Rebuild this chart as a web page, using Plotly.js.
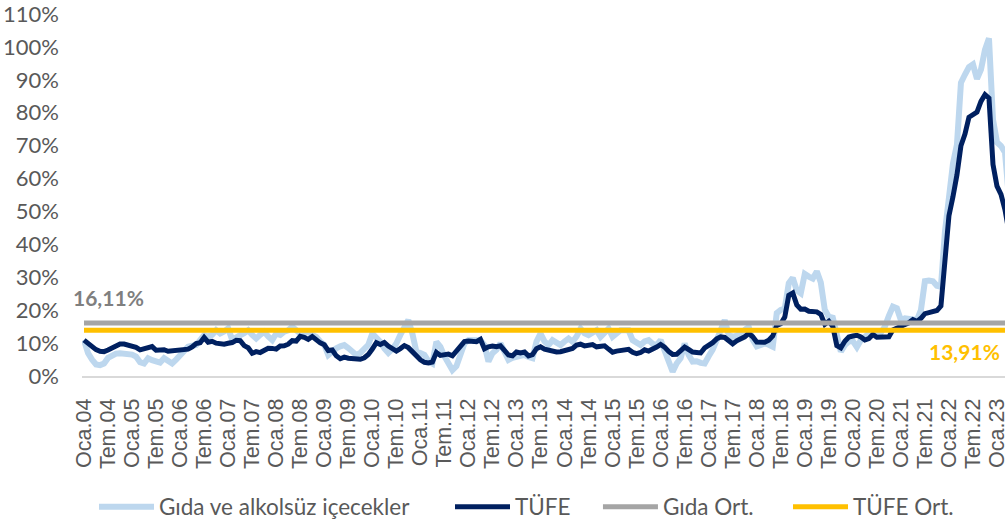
<!DOCTYPE html>
<html>
<head>
<meta charset="utf-8">
<script src="https://cdn.plot.ly/plotly-3.0.1.min.js"></script>
<style>html,body{margin:0;padding:0;background:#fff;}#chart{width:1005px;height:524px;}</style>
</head>
<body>
<div id="chart"></div>
<script>
// Annual % change, monthly, Oca.04 ... Nis.23
const gida = [
  10.9, 7.0, 5.0, 3.5, 3.3, 3.8, 5.5, 6.4, 6.8, 6.9, 6.9, 6.9,
  6.5, 5.9, 4.2, 3.8, 5.4, 4.8, 4.4, 4.1, 5.4, 4.5, 3.8, 5.0,
  6.4, 7.5, 8.9, 9.2, 9.4, 10.9, 12.4, 11.9, 12.5, 13.9, 12.9, 13.5,
  14.5, 11.0, 11.5, 12.4, 13.0, 13.9, 12.5, 11.4, 12.5, 13.4, 12.0, 10.9,
  12.9, 12.5, 13.5, 13.9, 15.0, 14.0, 12.9, 13.0, 13.4, 12.5, 11.9, 10.5,
  9.5, 6.4, 7.5, 8.4, 9.0, 9.4, 8.5, 7.4, 6.4, 7.0, 8.4, 9.5,
  12.9, 11.9, 10.4, 8.4, 7.0, 8.2, 9.9, 12.5, 15.0, 17.0, 12.9, 7.4,
  7.0, 6.4, 4.5, 3.8, 10.4, 8.9, 6.0, 4.0, 1.8, 3.0, 7.0, 9.9,
  10.9, 10.9, 10.9, 10.9, 9.4, 4.4, 6.9, 8.0, 9.9, 7.0, 4.9, 5.5,
  5.9, 6.2, 6.4, 5.8, 5.4, 10.5, 12.9, 10.5, 9.4, 10.9, 10.0, 9.4,
  10.5, 11.4, 10.4, 12.0, 14.4, 13.0, 12.4, 13.0, 13.9, 11.9, 13.0, 14.4,
  11.9, 13.0, 13.9, 13.9, 13.9, 10.9, 10.0, 9.4, 10.5, 10.9, 9.8, 9.4,
  10.9, 7.4, 3.5, 1.3, 3.8, 5.4, 9.9, 6.4, 4.4, 4.5, 4.0, 3.8,
  6.0, 8.0, 10.9, 14.0, 17.0, 12.5, 11.9, 12.3, 12.9, 14.0, 14.9, 11.0,
  9.0, 9.5, 9.9, 9.5, 8.9, 19.1, 20.1, 20.5, 28.2, 29.8, 26.0, 25.1,
  31.0, 30.2, 29.6, 31.8, 28.4, 20.1, 18.0, 17.7, 11.9, 7.4, 9.4, 10.5,
  10.6, 8.8, 10.9, 11.9, 12.9, 12.9, 12.8, 13.2, 15.0, 18.3, 21.1, 20.6,
  17.0, 17.5, 17.4, 17.4, 17.0, 20.0, 28.8, 29.0, 28.8, 27.4, 27.1, 43.8,
  55.6, 64.5, 70.3, 89.1, 91.6, 93.9, 94.7, 90.3, 93.1, 99.1, 102.6, 77.9,
  71.0, 69.9, 67.9, 53.9
];
const tufe = [
  10.9, 9.8, 8.8, 8.0, 7.5, 7.4, 7.9, 8.6, 9.4, 9.7, 9.7, 9.4,
  9.24, 8.69, 7.94, 8.18, 8.70, 8.95, 7.82, 7.91, 7.99, 7.52, 7.61, 7.72,
  7.93, 8.15, 8.16, 8.83, 9.86, 10.12, 11.69, 10.26, 10.55, 9.98, 9.86, 9.65,
  9.93, 10.16, 10.86, 10.72, 9.23, 8.60, 6.90, 7.39, 7.12, 7.70, 8.40, 8.39,
  8.17, 9.10, 9.15, 9.66, 10.74, 10.61, 12.06, 11.77, 11.13, 11.99, 10.76, 10.06,
  9.50, 7.73, 7.89, 6.13, 5.24, 5.73, 5.39, 5.33, 5.27, 5.08, 5.53, 6.53,
  8.19, 10.13, 9.56, 10.19, 9.10, 8.37, 7.58, 8.33, 9.24, 8.62, 7.29, 6.40,
  4.90, 4.16, 3.99, 4.26, 7.17, 6.24, 6.31, 6.65, 6.15, 7.66, 9.48, 10.45,
  10.61, 10.43, 10.43, 11.14, 8.28, 8.87, 9.07, 8.88, 9.19, 7.80, 6.37, 6.16,
  7.31, 7.03, 7.29, 6.13, 6.51, 8.30, 8.88, 8.17, 7.88, 7.71, 7.32, 7.40,
  7.75, 7.89, 8.39, 9.38, 9.66, 9.16, 9.32, 9.54, 8.86, 8.96, 9.15, 8.17,
  7.24, 7.55, 7.61, 7.91, 8.09, 7.20, 6.81, 7.14, 7.95, 7.58, 8.10, 8.81,
  9.58, 8.78, 7.46, 6.57, 6.58, 7.64, 8.79, 8.05, 7.28, 7.16, 7.00, 8.53,
  9.22, 10.13, 11.29, 11.87, 11.72, 10.90, 9.79, 10.68, 11.20, 11.90, 12.98, 11.92,
  10.35, 10.26, 10.23, 10.85, 12.15, 15.39, 15.85, 17.90, 24.52, 25.24, 21.62, 20.30,
  20.35, 19.67, 19.71, 19.50, 18.71, 15.72, 16.65, 15.01, 9.26, 8.55, 10.56, 11.84,
  12.15, 12.37, 11.86, 10.94, 11.39, 12.62, 11.76, 11.77, 11.75, 11.89, 14.03, 14.60,
  14.97, 15.61, 16.19, 17.14, 16.59, 17.53, 18.95, 19.25, 19.58, 19.89, 21.31, 36.08,
  48.69, 54.44, 61.14, 69.97, 73.50, 78.62, 79.60, 80.21, 83.45, 85.51, 84.39, 64.27,
  57.68, 55.18, 50.51, 43.68
];
const gidaOrt = 16.11;
const tufeOrt = 13.91;
const tickLabels = [
  "Oca.04","Tem.04","Oca.05","Tem.05","Oca.06","Tem.06","Oca.07","Tem.07",
  "Oca.08","Tem.08","Oca.09","Tem.09","Oca.10","Tem.10","Oca.11","Tem.11",
  "Oca.12","Tem.12","Oca.13","Tem.13","Oca.14","Tem.14","Oca.15","Tem.15",
  "Oca.16","Tem.16","Oca.17","Tem.17","Oca.18","Tem.18","Oca.19","Tem.19",
  "Oca.20","Tem.20","Oca.21","Tem.21","Oca.22","Tem.22","Oca.23"
];
const yTicks = [0,10,20,30,40,50,60,70,80,90,100,110];
const seriesNames = ["Gıda ve alkolsüz içecekler","TÜFE","Gıda Ort.","TÜFE Ort."];

const xs = gida.map((_, i) => i);
const xEnds = [0, gida.length - 1];

const traces = [
  {x: xs, y: gida, name: seriesNames[0], type: 'scatter', mode: 'lines',
   line: {color: '#BDD7EE', width: 6}, legend: 'legend'},
  {x: xs, y: tufe, name: seriesNames[1], type: 'scatter', mode: 'lines',
   line: {color: '#002060', width: 5}, legend: 'legend2'},
  {x: xEnds, y: [gidaOrt, gidaOrt], name: seriesNames[2], type: 'scatter', mode: 'lines',
   line: {color: '#A5A5A5', width: 5}, legend: 'legend3'},
  {x: xEnds, y: [tufeOrt, tufeOrt], name: seriesNames[3], type: 'scatter', mode: 'lines',
   line: {color: '#FFC000', width: 5}, legend: 'legend4'}
];

const fmt = v => v.toFixed(2).replace('.', ',') + '%';
const legFont = {family: 'Lato', size: 22.5, color: '#595959'};
const mkLeg = x => ({orientation: 'h', x: x, xanchor: 'left', y: -0.362, yanchor: 'middle',
                     font: legFont, bgcolor: 'rgba(0,0,0,0)', itemwidth: 55, borderwidth: 0});

const layout = {
  width: 1005, height: 524,
  margin: {l: 82, r: 0, t: 14, b: 148, pad: 0, autoexpand: false},
  paper_bgcolor: '#ffffff', plot_bgcolor: '#ffffff',
  showlegend: true,
  legend: mkLeg(0.013),
  legend2: mkLeg(0.3987),
  legend3: mkLeg(0.559),
  legend4: mkLeg(0.7649),
  xaxis: {range: [-0.5, 230.0], tickmode: 'array',
          tickvals: tickLabels.map((_, i) => i * 6), ticktext: tickLabels,
          tickangle: -90, tickfont: {family: 'Liberation Sans', size: 21.5, color: '#595959'},
          showline: true, linecolor: '#D9D9D9', linewidth: 2, showgrid: false, zeroline: false,
          ticks: '', ticklabelstandoff: 12, ticklabeloverflow: 'allow', fixedrange: true,
          automargin: false},
  yaxis: {range: [0, 110], tickmode: 'array', tickvals: yTicks,
          ticktext: yTicks.map(v => v + '%'),
          tickfont: {family: 'Lato', size: 22, color: '#595959'},
          showline: false, showgrid: false, zeroline: false, ticks: '', ticklabelstandoff: 22,
          ticklabeloverflow: 'allow', fixedrange: true, automargin: false},
  annotations: [
    {x: 6, y: gidaOrt, xref: 'x', yref: 'y', text: fmt(gidaOrt), showarrow: false,
     yshift: 25, font: {family: 'Lato', size: 21, color: '#7F7F7F', weight: 'bold'}},
    {x: 220, y: tufeOrt, xref: 'x', yref: 'y', text: fmt(tufeOrt), showarrow: false,
     yshift: -21, font: {family: 'Lato', size: 21, color: '#FFC000', weight: 'bold'}}
  ]
};

Plotly.newPlot('chart', traces, layout, {displayModeBar: false, staticPlot: true});
</script>
</body>
</html>
